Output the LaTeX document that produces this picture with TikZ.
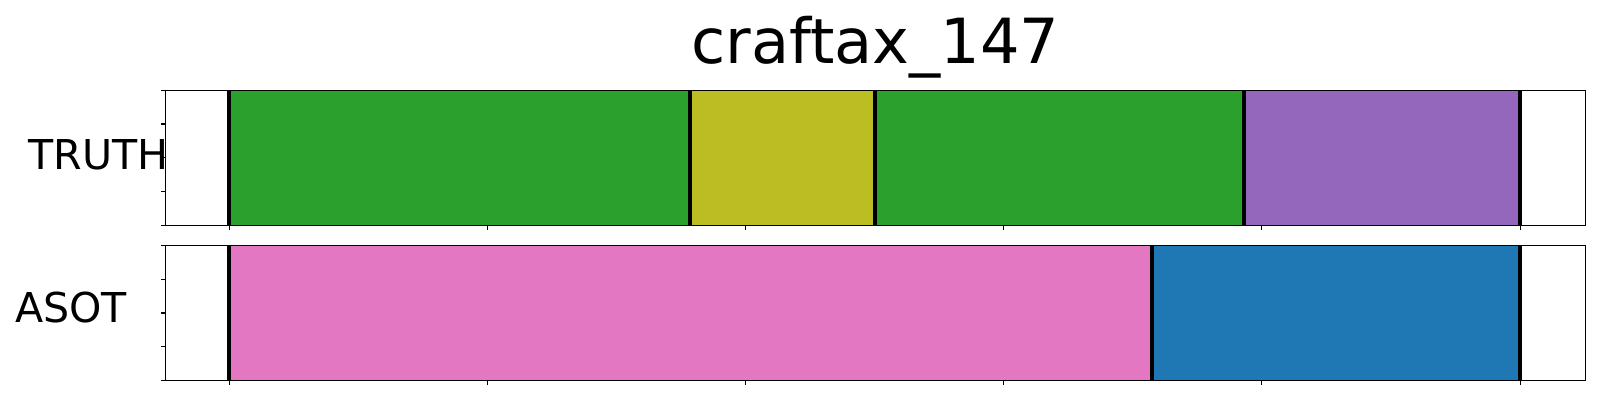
\documentclass[tikz,border=0pt]{standalone}
\usepackage{fontspec}
\setmainfont{DejaVu Sans}
\definecolor{segGreen}{HTML}{2CA02C}
\definecolor{segOlive}{HTML}{BCBD22}
\definecolor{segPurple}{HTML}{9467BD}
\definecolor{segPink}{HTML}{E377C2}
\definecolor{segBlue}{HTML}{1F77B4}
\begin{document}
\begin{tikzpicture}[line cap=butt,line join=miter,x=0.01cm,y=-0.01cm,
  spine/.style={line width=0.32pt,black},
  bound/.style={line width=1.1pt,black},
  lbl/.style={inner sep=0pt,anchor=base}]
		\useasboundingbox (0,0) rectangle (1600,400);
		%%%%%%%%%%%%%%%%%%%%% T R U T H %%%%%%%%%%%%%%%%%%%%%
		\fill [segGreen] (229.3,90.3) rectangle (690,225.3);
		\fill [segOlive] (690,90.3) rectangle (875,225.3);
		\fill [segGreen] (875,90.3) rectangle (1243.7,225.3);
		\fill [segPurple] (1243.7,90.3) rectangle (1520,225.3);
		\foreach \bx in {229.3,690,875,1243.7,1520}
			\draw [bound] (\bx,90.3) -- (\bx,225.3);
		\draw [spine] (165.7,90.3) rectangle (1585.3,225.3);
		
		%%%%%%%%%%%%%%%%%%%%% A S O T %%%%%%%%%%%%%%%%%%%%%
		\fill [segPink] (229.3,245.7) rectangle (1151.7,380.3);
		\fill [segBlue] (1151.7,245.7) rectangle (1520,380.3);
		\foreach \bx in {229.3,1151.7,1520}
			\draw [bound] (\bx,245.7) -- (\bx,380.3);
		\draw [spine] (165.7,245.7) rectangle (1585.3,380.3);
		
		%%%% TICKS
		\foreach \tx in {0,...,5}{
			\draw [spine] (229.3+258.15*\tx,225.3) -- ++(0,4.9);
			\draw [spine] (229.3+258.15*\tx,380.3) -- ++(0,4.9);
		}
		\foreach \ty in {0,...,4}{
			\draw [spine] (165.7,90.3+33.75*\ty) -- ++(-4.9,0);
			\draw [spine] (165.7,245.7+33.65*\ty) -- ++(-4.9,0);
		}
		
		%%%% LABELS
		\node [lbl,anchor=base west] (truth) at (28,169.3) {\fontsize{11.7}{14}\selectfont TRUTH};
		\node [lbl,anchor=base west] (asot) at (14.5,322.7) {\fontsize{11.7}{14}\selectfont ASOT};
		\node [lbl] (title) at (875.5,63.3) {\fontsize{17.7}{21}\selectfont craftax\_147};
	\end{tikzpicture}
\end{document}
